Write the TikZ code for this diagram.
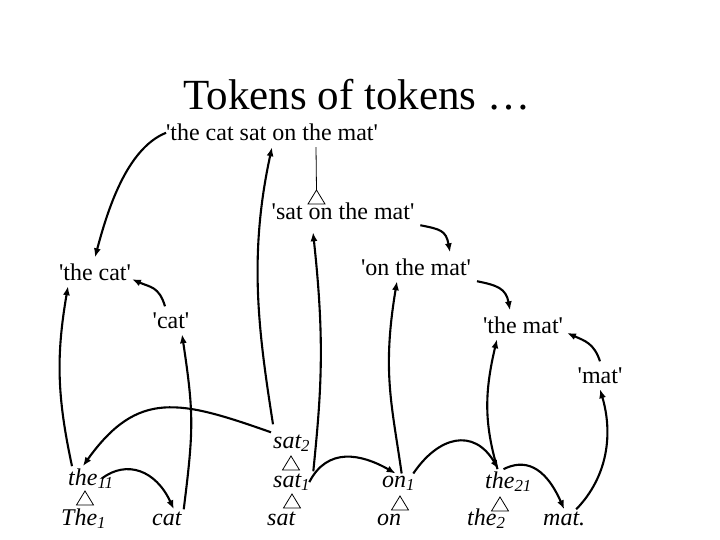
\documentclass[tikz,border=0pt]{standalone}
\usepackage{fontspec}
\setmainfont{Liberation Serif}
\usetikzlibrary{arrows.meta}

\newcommand{\qt}[1]{\textquotesingle#1\textquotesingle}

\begin{document}
\begin{tikzpicture}[x=1pt,y=-1pt,
    phrase/.style={anchor=base,inner sep=1pt,outer sep=5pt,
      font=\fontsize{24}{28}\selectfont},
    word/.style={anchor=base west,inner sep=2pt,
      font=\fontsize{24}{28}\selectfont\itshape},
    link/.style={line width=2.1pt,-{Latex[length=9pt,width=7pt]}},
    tri/.pic={\draw[line width=0.8pt] (-8.5,7) -- (8.5,7) -- (0,-7) -- cycle;
      \coordinate (-top) at (0,-7);}]
    \useasboundingbox (0,0) rectangle (720,540);

    \node[anchor=base,font=\fontsize{43}{50}\selectfont] (title) at (357,110)
      {Tokens of tokens \ldots};

    \node[phrase] (whole) at (272,141) {\qt{the cat sat on the mat}};
    \node[phrase] (satmat) at (343,219) {\qt{sat on the mat}};
    \node[phrase] (onmat) at (416,275) {\qt{on the mat}};
    \node[phrase] (thecat) at (95,280) {\qt{the cat}};
    \node[phrase] (cat1) at (171,328) {\qt{cat}};
    \node[phrase] (themat) at (523,333) {\qt{the mat}};
    \node[phrase] (mat1) at (600,383) {\qt{mat}};

    \node[word] (the11) at (66,485) {the\textsubscript{11}};
    \node[word] (The1) at (59,525) {The\textsubscript{1}};
    \node[word] (catw) at (150,525) {cat};
    \node[word] (sat2) at (271,448) {sat\textsubscript{2}};
    \node[word] (sat1) at (271,487) {sat\textsubscript{1}};
    \node[word] (satw) at (265,525) {sat};
    \node[word] (on1) at (380,487) {on\textsubscript{1}};
    \node[word] (onw) at (375,525) {on};
    \node[word] (the21) at (483,488) {the\textsubscript{21}};
    \node[word] (the2) at (465,525) {the\textsubscript{2}};
    \node[word] (matd) at (541,525) {mat.};

    \pic (tw) at (316.5,197) {tri};
    \pic (ts2) at (291,463) {tri};
    \pic (ts1) at (292,501) {tri};
    \pic (to1) at (400,503) {tri};
    \pic (tt1) at (85,498) {tri};
    \pic (tt2) at (500,504) {tri};

    \draw[line width=0.8pt] ([xshift=44pt]whole.south) -- (tw-top);

    % phrase to phrase
    \draw[link] ([xshift=6pt]whole.west) .. controls +(-40,16) and +(12,-45) .. (thecat.north);
    \draw[link] (satmat.south east) .. controls +(20,4) and +(-4,-22) .. ([xshift=34pt]onmat.north);
    \draw[link] (onmat.south east) .. controls +(20,4) and +(-4,-22) .. ([xshift=-13pt]themat.north);
    \draw[link] ([xshift=-6pt]cat1.north) .. controls +(-6,-20) and +(18,8) .. ([xshift=-5pt]thecat.-10);
    \draw[link] (mat1.north) .. controls +(-6,-18) and +(18,8) .. ([xshift=-2pt]themat.-10);

    % word to phrase
    \draw[link] ([xshift=6pt]the11.north west) .. controls +(-15,-70) and +(-12,70) .. ([xshift=-27pt]thecat.south);
    \draw[link] (catw.north east) .. controls +(10,-80) and +(12,80) .. ([xshift=11pt]cat1.south);
    \draw[link] ([xshift=2pt,yshift=8pt]sat2.north west) .. controls +(-14,-90) and +(-24,110) .. (whole.south);
    \draw[link] ([xshift=1pt]sat1.north east) .. controls +(8,-80) and +(12,110) .. ([xshift=-30pt,yshift=-7pt]satmat.south);
    \draw[link] ([xshift=3pt]on1.north) .. controls +(-10,-70) and +(-15,90) .. ([xshift=-19pt]onmat.south);
    \draw[link] ([xshift=-11pt]the21.north) .. controls +(-13,-45) and +(-13,55) .. ([xshift=-26pt]themat.south);
    \draw[link] ([xshift=12pt]matd.north) .. controls +(32,-33) and +(13,44) .. (mat1.south);

    % word to word
    \draw[link] (sat2.north west) .. controls +(-91,-32) and +(55,-77) .. ([xshift=-8pt]the11.north);
    \draw[link] ([xshift=-14pt]the11.east) .. controls +(25,-19) and +(-18,-39) .. ([xshift=7pt]catw.north);
    \draw[link] ([xshift=-3pt]sat1.east) .. controls +(18,-35) and +(-35,-20) .. ([xshift=-3pt]on1.north);
    \draw[link] ([xshift=-4pt]on1.north east) .. controls +(25,-37) and +(-25,-42) .. ([xshift=-10pt]the21.north);
    \draw[link] ([xshift=-5pt]the21.north) .. controls +(20,-10) and +(-20,-45) .. (matd.north);
\end{tikzpicture}
\end{document}
